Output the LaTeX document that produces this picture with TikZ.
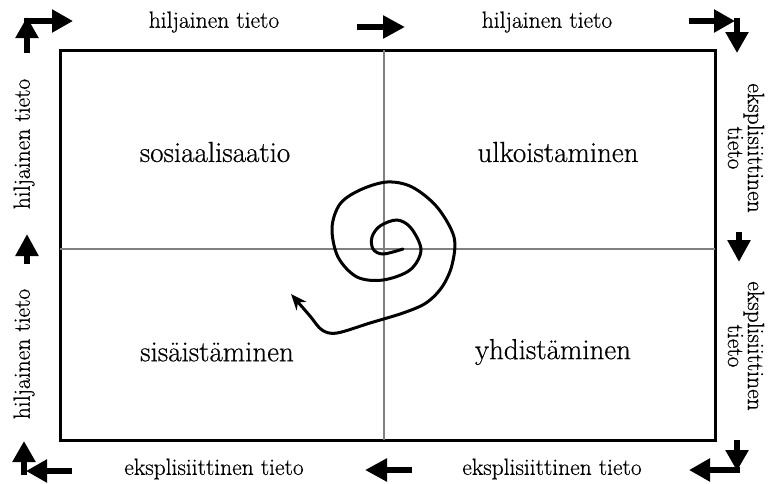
\documentclass[tikz,border=0pt]{standalone}
\usepackage{fontspec}
\setmainfont{Latin Modern Roman}[FakeBold=0.5]
\usetikzlibrary{arrows.meta}
\begin{document}
\begin{tikzpicture}[x=1pt,y=-1pt,
  quad/.style={font=\fontsize{29}{33}\selectfont, inner sep=0pt},
  edgelab/.style={font=\fontsize{23.5}{20}\selectfont, inner sep=0pt, align=center},
  bigarrow/.style={line width=6pt, -{Triangle[length=22pt,width=22pt]}},
  cornerarrow/.style={line width=6pt, -{Triangle[length=21pt,width=22pt]}},
  axis/.style={line width=1.5pt, draw=black!50},
  frame/.style={line width=3pt}]
\useasboundingbox (0,0) rectangle (769,483);
% frame and axes
\draw[frame] (60,50) rectangle (715,440);
\coordinate (vt) at (384,50); \coordinate (vb) at (384,440);
\coordinate (hl) at (60,249); \coordinate (hr) at (715,249);
\draw[axis] (vt) -- (vb);
\draw[axis] (hl) -- (hr);
% quadrant labels
\node[quad] (q1) at (215,152) {sosiaalisaatio};
\node[quad] (q2) at (558,152) {ulkoistaminen};
\node[quad] (q3) at (217,352) {sisäistäminen};
\node[quad] (q4) at (553,352) {yhdistäminen};
% edge labels
\node[edgelab] (t1) at (214,22) {hiljainen tieto};
\node[edgelab] (t2) at (547,22) {hiljainen tieto};
\node[edgelab] (b1) at (214,469) {eksplisiittinen tieto};
\node[edgelab] (b2) at (552,469) {eksplisiittinen tieto};
\node[edgelab, rotate=90] (l1) at (24,144) {hiljainen tieto};
\node[edgelab, rotate=90] (l2) at (24,354) {hiljainen tieto};
\node[edgelab, rotate=-90] (r1) at (746,148) {eksplisiittinen\\tieto};
\node[edgelab, rotate=-90] (r2) at (746,346) {eksplisiittinen\\tieto};
% middle arrows
\coordinate (tma) at (357,27); \coordinate (tmb) at (405,27);
\draw[bigarrow] (tma) -- (tmb);
\coordinate (bma) at (412,470); \coordinate (bmb) at (365,470);
\draw[bigarrow] (bma) -- (bmb);
\coordinate (lma) at (27,264); \coordinate (lmb) at (27,234);
\draw[bigarrow] (lma) -- (lmb);
\coordinate (rma) at (739,232); \coordinate (rmb) at (739,262);
\draw[bigarrow] (rma) -- (rmb);
% corner arrows
\coordinate (tl0) at (27,53); \coordinate (tl1) at (27,17);
\coordinate (tl2) at (24,21); \coordinate (tl3) at (73,21);
\draw[cornerarrow] (tl0) -- (tl1);
\draw[cornerarrow] (tl2) -- (tl3);
\coordinate (tr0) at (689,21); \coordinate (tr1) at (735,21);
\coordinate (tr2) at (737,18); \coordinate (tr3) at (737,53);
\draw[cornerarrow] (tr0) -- (tr1);
\draw[cornerarrow] (tr2) -- (tr3);
\coordinate (bl0) at (24,475); \coordinate (bl1) at (24,441);
\coordinate (bl2) at (72,471); \coordinate (bl3) at (26,471);
\draw[cornerarrow] (bl0) -- (bl1);
\draw[cornerarrow] (bl2) -- (bl3);
\coordinate (br0) at (737,440); \coordinate (br1) at (737,471);
\coordinate (br2) at (740,470); \coordinate (br3) at (689,470);
\draw[cornerarrow] (br0) -- (br1);
\draw[cornerarrow] (br2) -- (br3);
% spiral
\draw[line width=3pt, line cap=round, -{Stealth[length=16pt,width=13pt]}]
  plot[smooth, tension=0.55] coordinates {
  (403,249) (383,254) (373,249) (372,237) (380,226) (397,220) (411,228)
  (421,250) (410,270) (383,280) (357,277) (338,257) (332,228) (340,204)
  (360,190) (387,182) (412,187) (437,207) (454,237) (452,265) (442,287)
  (426,303) (403,313) (370,323) (337,333) (322,330) (310,316) (291,294)};
\end{tikzpicture}
\end{document}
